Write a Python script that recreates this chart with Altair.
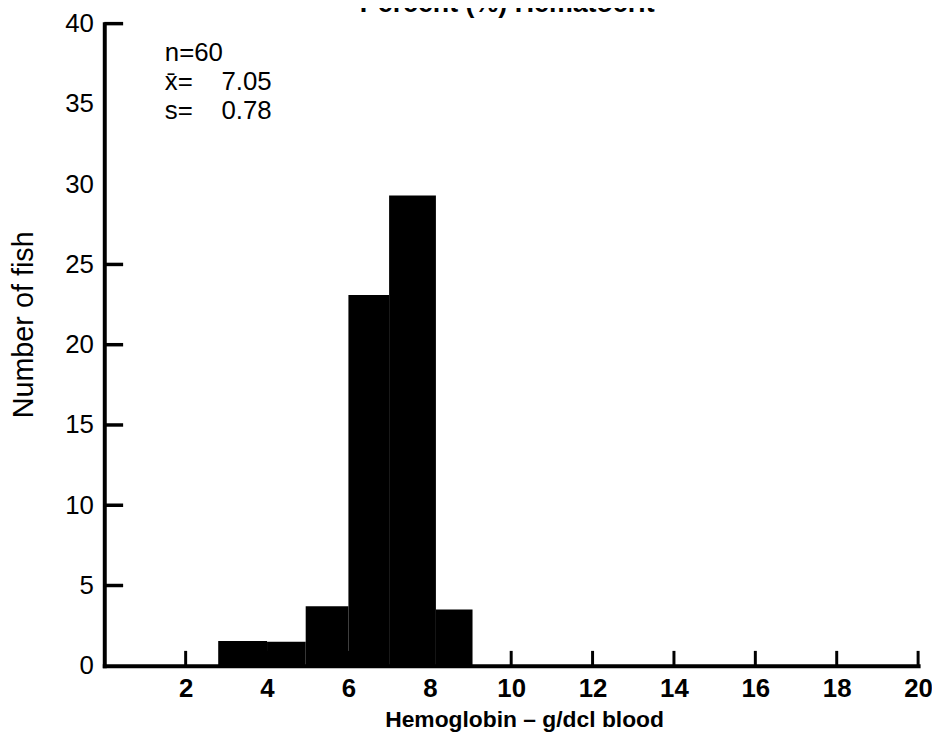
import altair as alt
import pandas as pd

FONT = "Liberation Sans"
INK = "#000000"

# histogram: bin edges (g/dcl) and number of fish
bin_start = [2.8, 4.0, 4.95, 6.0, 7.0, 8.15]
bin_end = [4.0, 4.95, 6.0, 7.0, 8.15, 9.05]
fish_count = [1.55, 1.5, 3.7, 23.1, 29.3, 3.5]

x_ticks = [2, 4, 6, 8, 10, 12, 14, 16, 18, 20]
y_labels = [0, 5, 10, 15, 20, 25, 30, 35, 40]
y_ticks = [5, 10, 15, 20, 25, 40]

stat_names = ["n=60", "x\u0304=", "s="]
stat_values = ["", "7.05", "0.78"]

top_title = "Percent (%) Hematocrit"
x_title = "Hemoglobin \u2013 g/dcl blood"
y_title = "Number of fish"

bars = pd.DataFrame({"start": bin_start, "end": bin_end, "count": fish_count})
x_tick_frame = pd.DataFrame({"v": x_ticks})
y_tick_frame = pd.DataFrame({"v": y_ticks})
text_frame = pd.DataFrame(
    {
        "names": ["\n".join(stat_names)],
        "values": ["\n".join(stat_values)],
        "title": [top_title],
    }
)

x_scale = alt.Scale(domain=[0, 20], nice=False, zero=False)
y_scale = alt.Scale(domain=[0, 40], nice=False, zero=True)

hist = alt.Chart(bars).mark_rect(color=INK).encode(
    x=alt.X(
        "start:Q",
        scale=x_scale,
        title=x_title,
        axis=alt.Axis(
            values=x_ticks,
            labelFontSize=26,
            labelFontWeight="bold",
            labelPadding=10,
            labelFlush=False,
            titleFontSize=23,
            titleFontWeight="bold",
            titlePadding=7,
            titleX=423,
        ),
    ),
    x2="end:Q",
    y=alt.Y(
        "count:Q",
        scale=y_scale,
        title=y_title,
        axis=alt.Axis(
            values=y_labels,
            labelFontSize=26,
            labelPadding=11,
            titleFontSize=29,
            titleFontWeight="normal",
            titleX=-81,
            titleY=303,
            titleAngle=-90,
            titleBaseline="middle",
        ),
    ),
    y2=alt.datum(0),
)

# inward-pointing tick marks, drawn by hand
x_tick_rules = alt.Chart(x_tick_frame).mark_rule(color=INK, strokeWidth=3).encode(
    x=alt.X("v:Q", scale=x_scale, title=x_title),
    y=alt.value(647),
    y2=alt.value(632),
)
y_tick_rules = alt.Chart(y_tick_frame).mark_rule(color=INK, strokeWidth=3.5).encode(
    y=alt.Y("v:Q", scale=y_scale, title=y_title),
    x=alt.value(0),
    x2=alt.value(19),
)

stat_names_text = alt.Chart(text_frame).mark_text(
    align="left", baseline="alphabetic", font=FONT, fontSize=26,
    lineBreak="\n", lineHeight=29, color=INK,
).encode(x=alt.value(61), y=alt.value(38), text="names:N")

stat_values_text = alt.Chart(text_frame).mark_text(
    align="left", baseline="alphabetic", font=FONT, fontSize=26,
    lineBreak="\n", lineHeight=29, color=INK,
).encode(x=alt.value(118), y=alt.value(38), text="values:N")

# the figure's heading runs off the top edge of the page
title_text = alt.Chart(text_frame).mark_text(
    align="center", baseline="alphabetic", font=FONT, fontSize=27,
    fontWeight="bold", color=INK,
).encode(x=alt.value(406), y=alt.value(-12), text="title:N")

chart = (
    alt.layer(hist, x_tick_rules, y_tick_rules, stat_names_text, stat_values_text, title_text)
    .properties(
        width=820,
        height=647,
        autosize=alt.AutoSizeParams(type="none"),
        padding={"left": 97, "top": 13, "right": 14, "bottom": 67},
        background="white",
    )
    .configure_view(stroke=None)
    .configure_axis(
        domainColor=INK,
        domainWidth=4,
        domainCap="square",
        ticks=False,
        grid=False,
        labelFont=FONT,
        labelColor=INK,
        labelOverlap=False,
        titleFont=FONT,
        titleColor=INK,
    )
)

chart.save("out.html", embed_options={"renderer": "svg", "actions": False})
